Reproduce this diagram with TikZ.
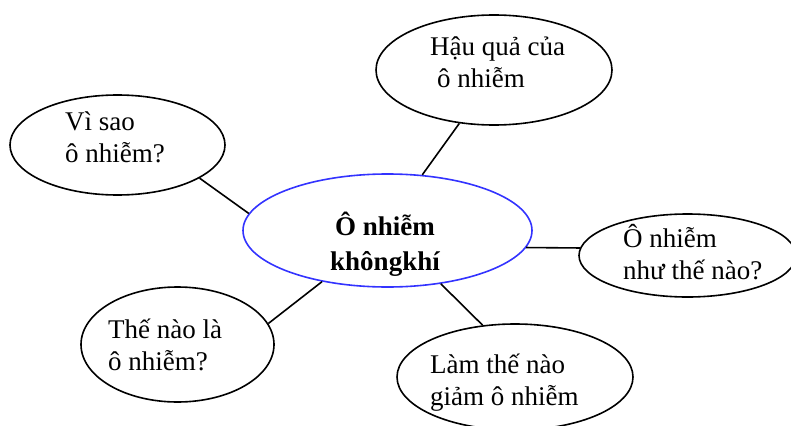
\documentclass[tikz,border=0pt]{standalone}
\usepackage{fontspec}
\setmainfont{Liberation Serif}
\usetikzlibrary{shapes.geometric}

\begin{document}
\begin{tikzpicture}[x=1pt,y=-1pt]
	\tikzstyle{bubble}=[draw,ellipse,line width=1.6pt,inner sep=0pt]
	\tikzstyle{txt}=[align=left,anchor=base west,inner sep=0pt,font=\fontsize{27pt}{32pt}\selectfont]
	\tikzstyle{link}=[line width=1.6pt]

	\useasboundingbox (0,0) rectangle (791,425);
	\clip (0,0) rectangle (791,425);

	\node[bubble,draw={rgb,255:red,51;green,51;blue,255},minimum width=289pt,minimum height=113pt] (ONKK) at (387.5,230.5) {};
	\node[bubble,minimum width=215pt,minimum height=100pt] (VS) at (117.5,145) {};
	\node[bubble,minimum width=236pt,minimum height=110pt] (HQ) at (494,70) {};
	\node[bubble,minimum width=217pt,minimum height=83pt] (NTN) at (687.5,255.5) {};
	\node[bubble,minimum width=193pt,minimum height=115pt] (TNL) at (177.5,344.5) {};
	\node[bubble,minimum width=236pt,minimum height=106pt] (LTN) at (515,377) {};

	% text sits on the baseline of its last line
	\node[txt,align=center,anchor=base,font=\fontsize{27pt}{35pt}\selectfont\bfseries] (tONKK) at (385,270) {Ô nhiễm\\khôngkhí};
	\node[txt] (tVS) at (65,162) {Vì sao\\ô nhiễm?};
	\node[txt] (tHQ) at (430,88) {Hậu quả của\\\hspace{7pt}ô nhiễm};
	\node[txt] (tNTN) at (623,279) {Ô nhiễm\\như thế nào?};
	\node[txt] (tTNL) at (108,370) {Thế nào là\\ô nhiễm?};
	\node[txt] (tLTN) at (430,405) {Làm thế nào\\giảm ô nhiễm};

	\path (VS.-22) edge[link] (ONKK.173);
	\path (HQ.-123) edge[link] (ONKK.58);
	\path (ONKK.-7) edge[link] (NTN.176);
	\path (ONKK.-45) edge[link] (LTN.122);
	\path (ONKK.-142) edge[link] (TNL.13);
\end{tikzpicture}
\end{document}
